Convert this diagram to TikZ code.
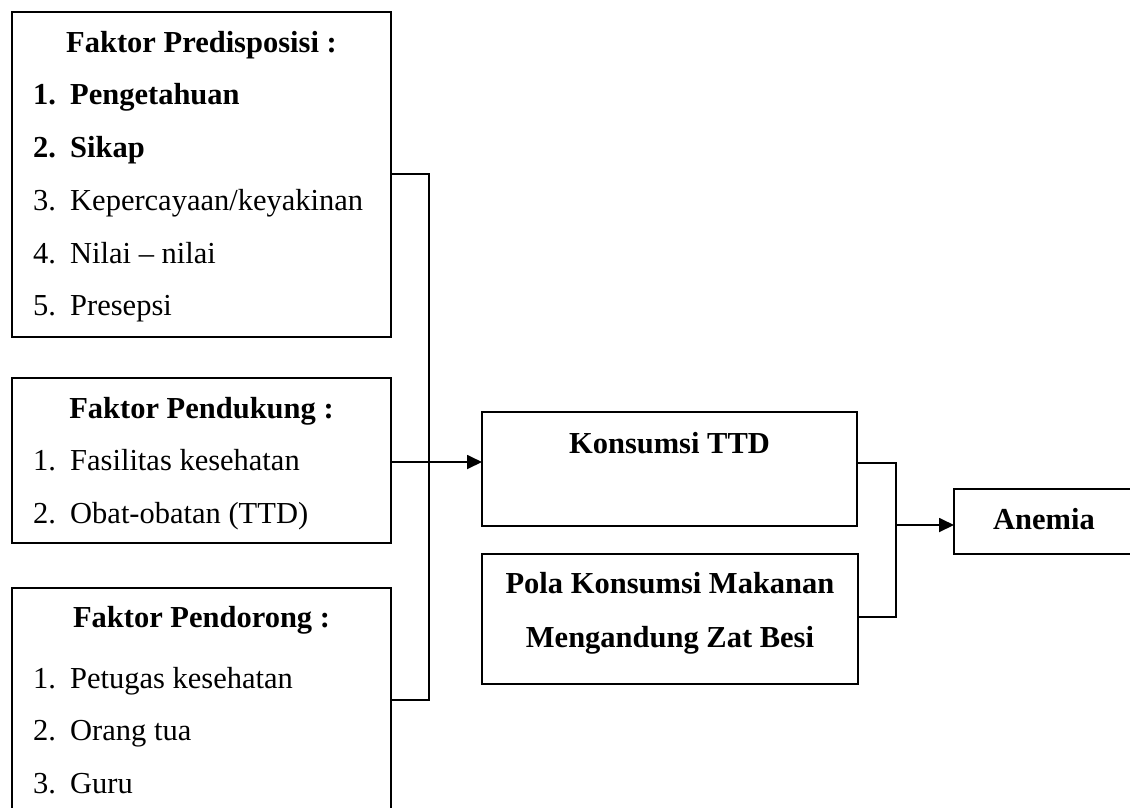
\documentclass[tikz,border=0pt]{standalone}
\usepackage{fontspec}
\setmainfont{Liberation Serif}
\usetikzlibrary{arrows.meta}
\begin{document}
\begin{tikzpicture}[x=1pt,y=-1pt,
  box/.style={draw,line width=1.8pt,rectangle,inner sep=0pt,outer sep=0pt,anchor=north west},
  txt/.style={inner sep=0pt,anchor=base west,font=\fontsize{30.5}{36}\selectfont},
  ttl/.style={inner sep=0pt,anchor=base,font=\fontsize{30.5}{36}\selectfont\bfseries},
  wire/.style={line width=1.8pt},
  arr/.style={wire,-{Triangle[length=15pt,width=14pt]}}]
\useasboundingbox (0,0) rectangle (1130,807);
\clip (0,0) rectangle (1130,807);
\fill[white] (0,0) rectangle (1130,807);
% boxes
\node[box,minimum width=379pt,minimum height=325pt] (pre) at (12,12) {};
\node[box,minimum width=379pt,minimum height=165pt] (duk) at (12,378) {};
\node[box,minimum width=379pt,minimum height=260pt] (dor) at (12,588) {};
\node[box,minimum width=375pt,minimum height=114pt] (kon) at (482,412) {};
\node[box,minimum width=376pt,minimum height=130pt] (pola) at (482,554) {};
\node[box,minimum width=180pt,minimum height=65pt] (ane) at (954,489) {};
% texts box 1
\node[ttl] (t1) at (201.5,52) {Faktor Predisposisi :};
\node[txt,font=\fontsize{30.5}{36}\selectfont\bfseries] (t1a) at (33,104) {\makebox[37pt][l]{1.}Pengetahuan};
\node[txt,font=\fontsize{30.5}{36}\selectfont\bfseries] (t1b) at (33,157) {\makebox[37pt][l]{2.}Sikap};
\node[txt] (t1c) at (33,210) {\makebox[37pt][l]{3.}Kepercayaan/keyakinan};
\node[txt] (t1d) at (33,263) {\makebox[37pt][l]{4.}Nilai -- nilai};
\node[txt] (t1e) at (33,315) {\makebox[37pt][l]{5.}Presepsi};
% texts box 2
\node[ttl] (t2) at (201.5,418) {Faktor Pendukung :};
\node[txt] (t2a) at (33,470) {\makebox[37pt][l]{1.}Fasilitas kesehatan};
\node[txt] (t2b) at (33,523) {\makebox[37pt][l]{2.}Obat-obatan (TTD)};
% texts box 3
\node[ttl] (t3) at (201.5,627) {Faktor Pendorong :};
\node[txt] (t3a) at (33,688) {\makebox[37pt][l]{1.}Petugas kesehatan};
\node[txt] (t3b) at (33,740) {\makebox[37pt][l]{2.}Orang tua};
\node[txt] (t3c) at (33,793) {\makebox[37pt][l]{3.}Guru};
% right texts
\node[ttl] (tk) at (669.5,453) {Konsumsi TTD};
\node[ttl] (tp1) at (670,593) {Pola Konsumsi Makanan};
\node[ttl] (tp2) at (670,647) {Mengandung Zat Besi};
\node[ttl] (ta) at (1044,529) {Anemia};
% connectors
\coordinate (ja) at (429,174);
\coordinate (jb) at (429,700);
\coordinate (jm) at (429,462);
\draw[wire] (pre.east |- ja) -- (ja) -- (jb) -- (dor.east |- jb);
\draw[wire] (duk.east |- jm) -- (jm);
\draw[arr] (jm) -- (kon.west |- jm);
\coordinate (ka) at (896,463);
\coordinate (kb) at (896,617);
\coordinate (km) at (896,525);
\draw[wire] (kon.east |- ka) -- (ka) -- (kb) -- (pola.east |- kb);
\draw[arr] (km) -- (ane.west |- km);
\end{tikzpicture}
\end{document}
